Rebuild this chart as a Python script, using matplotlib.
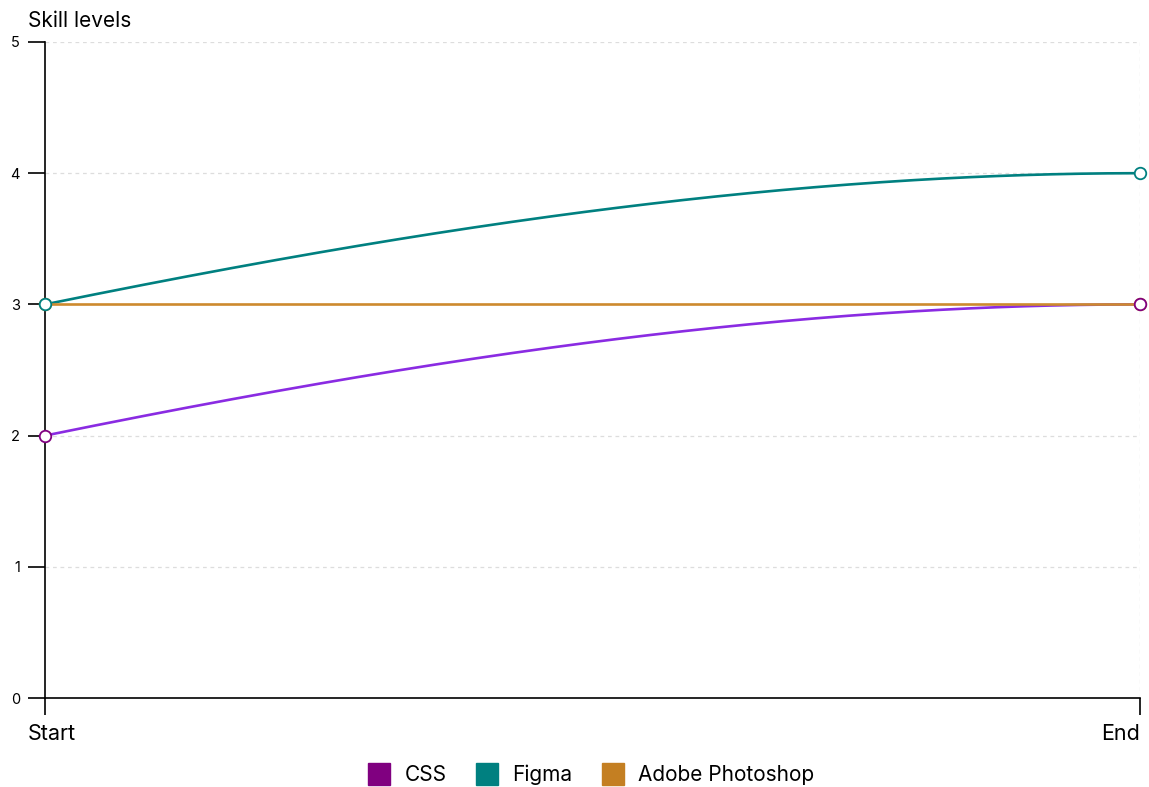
import numpy as np
import matplotlib.pyplot as plt
from matplotlib.lines import Line2D
from matplotlib.transforms import ScaledTranslation

# ---- data ----
stages = ['Start', 'End']
skills = ['CSS', 'Figma', 'Adobe Photoshop']
css_levels = [2, 3]
figma_levels = [3, 4]
photoshop_levels = [3, 3]
y_ticks = [0, 1, 2, 3, 4, 5]

# ---- styling ----
line_colors = ['#8a2be2', '#008080', '#cd8a2e']
marker_colors = ['#800080', '#008080', '#cd8a2e']
legend_colors = ['#800080', '#008080', '#c47f22']

plt.rcParams['font.family'] = ['Inter', 'DejaVu Sans']


def smooth(y0, y1, n=200, m0=1.7):
    # ease-out curve between the two points (flat at the end)
    t = np.linspace(0, 1, n)
    h01 = -2 * t**3 + 3 * t**2
    h10 = t**3 - 2 * t**2 + t
    return t, y0 + (y1 - y0) * (h01 + m0 * h10)


fig = plt.figure(figsize=(11.49, 7.87), dpi=100)
ax = fig.add_axes([45 / 1149, 89 / 787, 1095 / 1149, 656 / 787])

series = [css_levels, figma_levels, photoshop_levels]
x_pos = np.arange(len(stages))

for vals, col in zip(series, line_colors):
    xs, ys = smooth(vals[0], vals[1])
    ax.plot(x_pos[0] + xs * (x_pos[1] - x_pos[0]), ys, color=col, lw=1.9,
            solid_capstyle='round', zorder=3)

# markers: photoshop first so the others sit on top
for i in [2, 0, 1]:
    ax.plot(x_pos, series[i], ls='none', marker='o', ms=8.3, mfc='white',
            mec=marker_colors[i], mew=1.3, zorder=5, clip_on=False)

ax.set_xlim(0, 1)
ax.set_ylim(0, 5)
ax.set_yticks(y_ticks)
ax.set_xticks(x_pos)
ax.set_xticklabels(stages, fontsize=15.5)
ax.tick_params(axis='y', length=12, width=1.2, labelsize=10.5, pad=6,
               color='black')
ax.tick_params(axis='x', length=12, width=1.2, pad=7, color='black')

labels = ax.get_xticklabels()
labels[0].set_horizontalalignment('left')
labels[0].set_transform(labels[0].get_transform() +
                        ScaledTranslation(-17 / 100, 0, fig.dpi_scale_trans))
labels[1].set_horizontalalignment('right')

for s in ['top', 'right']:
    ax.spines[s].set_visible(False)
for s in ['left', 'bottom']:
    ax.spines[s].set_linewidth(1.2)
    ax.spines[s].set_color('black')

for y in y_ticks[1:]:
    ax.axhline(y, color='#dddddd', lw=0.9, ls=(0, (3, 3)), zorder=1)
ax.axvline(1, color='#dddddd', lw=0.9, ls=(0, (3, 3)), zorder=1)

fig.text(28 / 1149, 1 - 21 / 787, 'Skill levels', va='center', ha='left',
         fontsize=15)

handles = [Line2D([0], [0], ls='none', marker='s', ms=16.5, mfc=c, mec=c)
           for c in legend_colors]
fig.legend(handles, skills, loc='center', bbox_to_anchor=(591 / 1149, 1 - 775 / 787),
           ncol=3, frameon=False, fontsize=15, handlelength=1.1,
           handletextpad=0.65, columnspacing=1.4)

fig.savefig('out.png', dpi=100)
